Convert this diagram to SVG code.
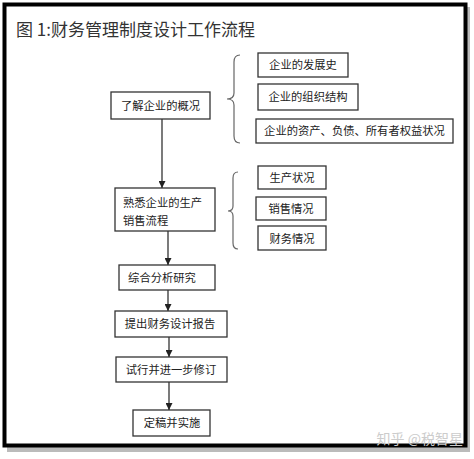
<svg xmlns="http://www.w3.org/2000/svg" width="474" height="459" viewBox="0 0 474 459">
<defs>
<marker id="ah" viewBox="0 0 10 10" refX="10" refY="5" markerWidth="7" markerHeight="7" markerUnits="userSpaceOnUse" orient="auto">
<path d="M0,0 L10,5 L0,10 Z" fill="#222"/>
</marker>
</defs>
<style>
.box{fill:#fff;stroke:#333;stroke-width:1.3}
.t{font-family:"Noto Sans CJK SC","Noto Sans",sans-serif;font-size:11.3px;fill:#222}
.ttl{font-family:"Noto Sans CJK SC","Liberation Serif",serif;font-size:17px;fill:#333}
.edge{stroke:#333;stroke-width:1.3;fill:none}
.brace{stroke:#666;stroke-width:1.2;fill:none}
</style>
<rect x="0" y="0" width="474" height="459" fill="#fff"/>
<rect x="7" y="7" width="463" height="445" fill="#bbb"/>
<rect x="4.5" y="4.5" width="461" height="441" fill="#fff" stroke="#000" stroke-width="4"/>
<text class="ttl" x="16" y="36">图 1:财务管理制度设计工作流程</text>

<g id="n1"><rect class="box" x="111" y="92" width="99" height="27"/><text class="t" x="160.5" y="109.5" text-anchor="middle">了解企业的概况</text></g>
<g id="n1a"><rect class="box" x="258" y="53" width="90" height="24"/><text class="t" x="303" y="69" text-anchor="middle">企业的发展史</text></g>
<g id="n1b"><rect class="box" x="258" y="84" width="100" height="26"/><text class="t" x="308" y="101" text-anchor="middle">企业的组织结构</text></g>
<g id="n1c"><rect class="box" x="256" y="119" width="197" height="24"/><text class="t" x="354.5" y="135" text-anchor="middle">企业的资产、负债、所有者权益状况</text></g>
<g id="n2"><rect class="box" x="115" y="188" width="100" height="43"/><text class="t" x="123" y="207">熟悉企业的生产</text><text class="t" x="123" y="225">销售流程</text></g>
<g id="n2a"><rect class="box" x="258" y="166" width="68" height="23"/><text class="t" x="292" y="182" text-anchor="middle">生产状况</text></g>
<g id="n2b"><rect class="box" x="256" y="197" width="70" height="23"/><text class="t" x="291" y="213" text-anchor="middle">销售情况</text></g>
<g id="n2c"><rect class="box" x="258" y="226" width="68" height="24"/><text class="t" x="292" y="242.5" text-anchor="middle">财务情况</text></g>
<g id="n3"><rect class="box" x="119" y="265" width="96" height="25"/><text class="t" x="162" y="281.5" text-anchor="middle">综合分析研究</text></g>
<g id="n4"><rect class="box" x="115" y="311" width="112" height="26"/><text class="t" x="170" y="328" text-anchor="middle">提出财务设计报告</text></g>
<g id="n5"><rect class="box" x="116" y="357" width="111" height="25"/><text class="t" x="171" y="374" text-anchor="middle">试行并进一步修订</text></g>
<g id="n6"><rect class="box" x="133" y="410" width="77" height="26"/><text class="t" x="172" y="427" text-anchor="middle">定稿并实施</text></g>

<g id="braces">
<path class="brace" d="M240,55 Q234,55 234,62 L234,93 Q234,99 227,99 Q234,99 234,105 L234,136 Q234,143 240,143"/>
<path class="brace" d="M238,172 Q233,172 233,178 L233,206 Q233,211 228,211 Q233,211 233,216 L233,243 Q233,249 238,249"/>
</g>

<g id="connectors">
<line class="edge" x1="162" y1="119" x2="162" y2="188" marker-end="url(#ah)"/>
<line class="edge" x1="168" y1="231" x2="168" y2="265" marker-end="url(#ah)"/>
<line class="edge" x1="168" y1="290" x2="168" y2="311" marker-end="url(#ah)"/>
<line class="edge" x1="169" y1="337" x2="169" y2="357" marker-end="url(#ah)"/>
<line class="edge" x1="169" y1="382" x2="169" y2="410" marker-end="url(#ah)"/>
</g>

<text x="463" y="444" text-anchor="end" style="font-family:'Noto Sans CJK SC',sans-serif;font-size:14px;fill:#ccc">知乎 @税智星</text>
</svg>
